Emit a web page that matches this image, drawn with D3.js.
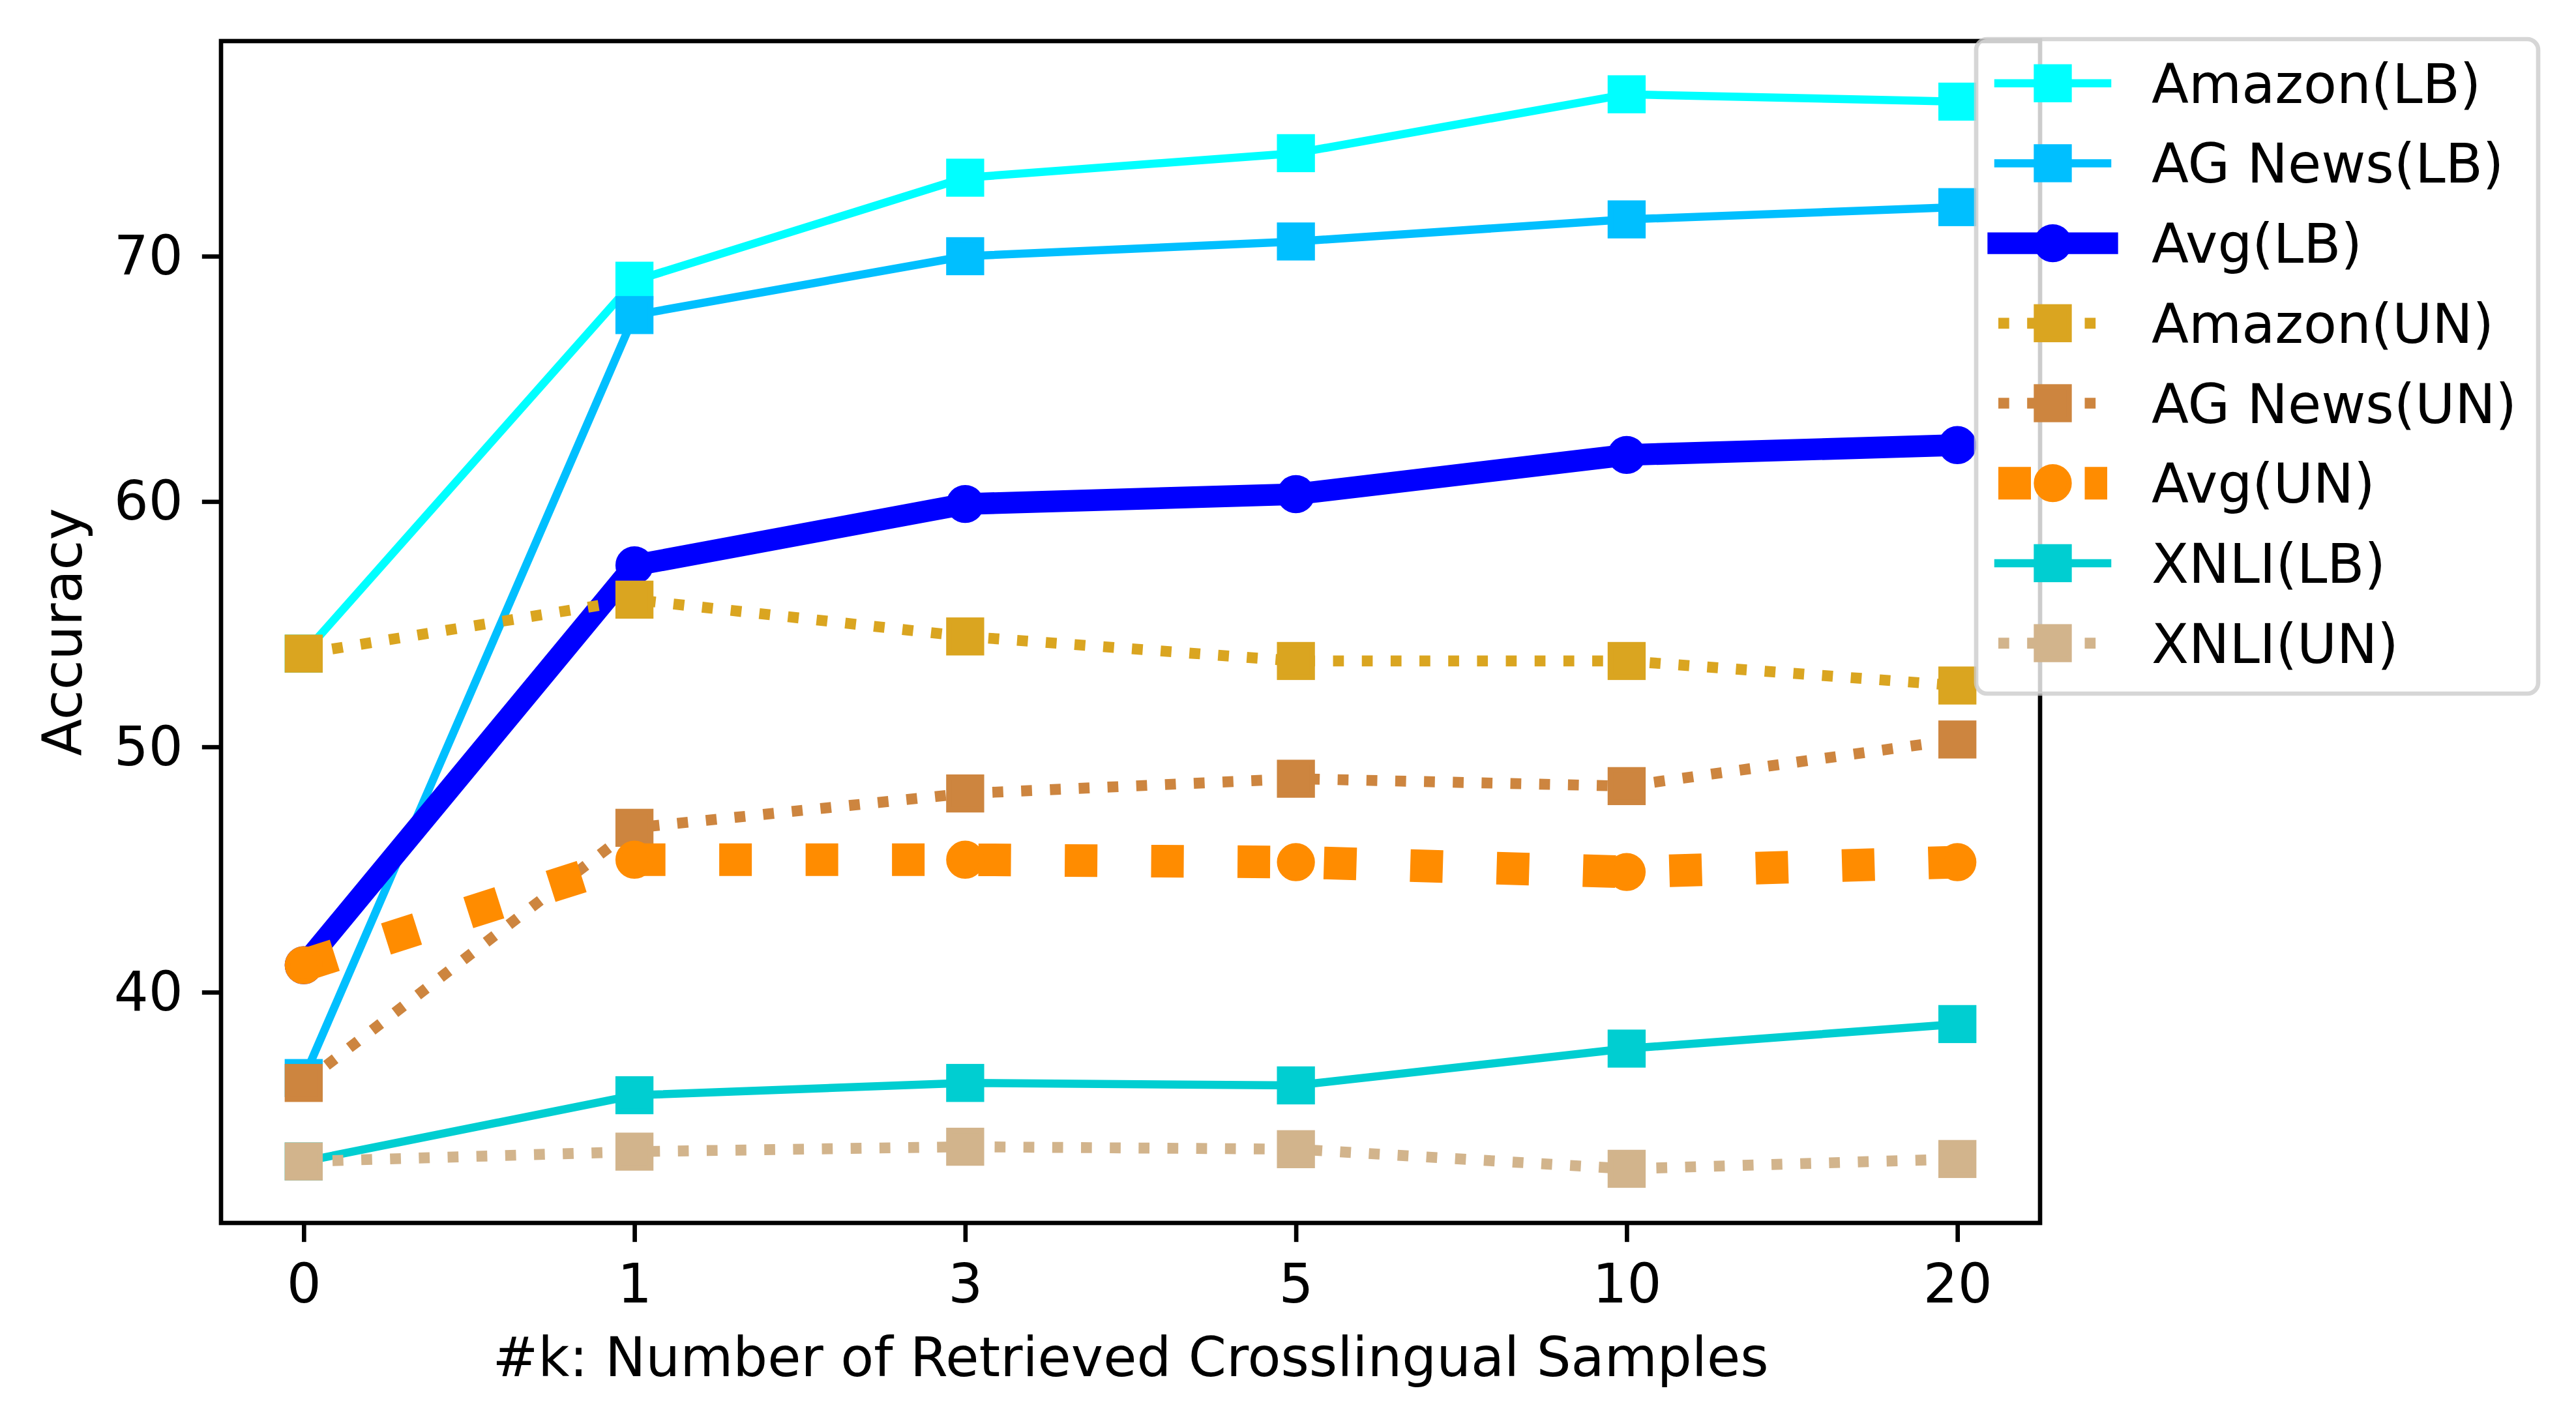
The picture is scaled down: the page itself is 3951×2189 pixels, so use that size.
<!DOCTYPE html>
<html lang="en">
<head>
<meta charset="UTF-8">
<title>Accuracy vs k</title>
<script src="https://cdn.jsdelivr.net/npm/d3@7"></script>
<style>
  body { margin: 0; background: #fff; }
  text { font-family: "DejaVu Sans", sans-serif; }
</style>
</head>
<body>
<script>
// values
var kLabels  = ["0", "1", "3", "5", "10", "20"];
var amazonLB = [53.8, 69.0, 73.2, 74.2, 76.6, 76.3];
var agNewsLB = [36.5, 67.6, 70.0, 70.6, 71.5, 72.0];
var avgLB    = [41.1, 57.4, 59.9, 60.3, 61.9, 62.3];
var amazonUN = [53.8, 56.0, 54.5, 53.5, 53.5, 52.5];
var agNewsUN = [36.3, 46.7, 48.1, 48.7, 48.4, 50.3];
var avgUN    = [41.1, 45.4, 45.4, 45.3, 44.9, 45.3];
var xnliLB   = [33.1, 35.8, 36.3, 36.2, 37.7, 38.7];
var xnliUN   = [33.1, 33.5, 33.7, 33.6, 32.8, 33.2];
var yTicks   = [40, 50, 60, 70];

var seriesNames = ["Amazon(LB)", "AG News(LB)", "Avg(LB)", "Amazon(UN)", "AG News(UN)", "Avg(UN)", "XNLI(LB)", "XNLI(UN)"];
var seriesData  = [amazonLB, agNewsLB, avgLB, amazonUN, agNewsUN, avgUN, xnliLB, xnliUN];

// styles (pt units, 600 dpi)
var pt = 600 / 72;
var styles = [
  {color: "#00FFFF", lw: 1.5, dotted: false, marker: "s"},
  {color: "#00BFFF", lw: 1.5, dotted: false, marker: "s"},
  {color: "#0000FF", lw: 4,   dotted: false, marker: "o"},
  {color: "#DAA520", lw: 2,   dotted: true,  marker: "s"},
  {color: "#CD853F", lw: 2,   dotted: true,  marker: "s"},
  {color: "#FF8C00", lw: 6,   dotted: true,  marker: "o"},
  {color: "#00CED1", lw: 1.5, dotted: false, marker: "s"},
  {color: "#D2B48C", lw: 2,   dotted: true,  marker: "s"}
];

var width = 3951, height = 2189;
var pLeft = 339, pRight = 3129, pTop = 63, pBottom = 1876;
var fs = 10 * pt;

var svg = d3.select("body").append("svg").attr("width", width).attr("height", height);

var x = d3.scaleLinear().domain([-0.25, 5.25]).range([pLeft, pRight]);
var y = d3.scaleLinear().domain([30.593, 78.769]).range([pBottom, pTop]);

var line = d3.line().x(function(d, i) { return x(i); }).y(function(d) { return y(d); });

function dash(s) {
  return s.dotted ? (s.lw * pt) + "," + (1.65 * s.lw * pt) : null;
}

function drawMarker(g, shape, cx, cy, color) {
  var ms = 6 * pt, mew = 1 * pt;
  if (shape == "s") {
    g.append("rect").attr("x", cx - ms / 2).attr("y", cy - ms / 2)
      .attr("width", ms).attr("height", ms)
      .attr("fill", color).attr("stroke", color).attr("stroke-width", mew);
  } else {
    g.append("circle").attr("cx", cx).attr("cy", cy).attr("r", ms / 2)
      .attr("fill", color).attr("stroke", color).attr("stroke-width", mew);
  }
}

svg.append("clipPath").attr("id", "clip").append("rect")
  .attr("x", pLeft).attr("y", pTop).attr("width", pRight - pLeft).attr("height", pBottom - pTop);

var plot = svg.append("g");
for (var i = 0; i < seriesData.length; i++) {
  var s = styles[i];
  var g = plot.append("g");
  g.append("path").attr("d", line(seriesData[i]))
    .attr("clip-path", "url(#clip)")
    .attr("fill", "none").attr("stroke", s.color)
    .attr("stroke-width", s.lw * pt)
    .attr("stroke-linecap", s.dotted ? "butt" : "square")
    .attr("stroke-linejoin", "round")
    .attr("stroke-dasharray", dash(s));
  for (var j = 0; j < seriesData[i].length; j++) {
    drawMarker(g, s.marker, x(j), y(seriesData[i][j]), s.color);
  }
}

// axes
var xAxis = d3.axisBottom(x).tickValues(d3.range(kLabels.length))
  .tickFormat(function(d) { return kLabels[d]; })
  .tickSizeInner(3.5 * pt).tickSizeOuter(0).tickPadding(3.5 * pt);
var yAxis = d3.axisLeft(y).tickValues(yTicks)
  .tickSizeInner(3.5 * pt).tickSizeOuter(0).tickPadding(3.5 * pt);

var gx = svg.append("g").attr("transform", "translate(0," + pBottom + ")").call(xAxis);
var gy = svg.append("g").attr("transform", "translate(" + pLeft + ",0)").call(yAxis);
[gx, gy].forEach(function(a) {
  a.select(".domain").remove();
  a.selectAll("line").attr("stroke", "#000").attr("stroke-width", 0.8 * pt);
  a.selectAll("text").attr("font-size", fs).attr("fill", "#000")
    .style("font-family", "DejaVu Sans, sans-serif");
});
gx.selectAll("text").attr("dy", "0.76em");
gy.selectAll("text").attr("dy", "0.33em");

svg.append("rect").attr("x", pLeft).attr("y", pTop)
  .attr("width", pRight - pLeft).attr("height", pBottom - pTop)
  .attr("fill", "none").attr("stroke", "#000").attr("stroke-width", 0.8 * pt);

svg.append("text").attr("x", (pLeft + pRight) / 2).attr("y", 2111)
  .attr("text-anchor", "middle").attr("font-size", fs)
  .text("#k: Number of Retrieved Crosslingual Samples");

svg.append("text").attr("transform", "translate(125," + ((pTop + pBottom) / 2) + ") rotate(-90)")
  .attr("text-anchor", "middle").attr("font-size", fs)
  .text("Accuracy");

// legend
var lg = svg.append("g");
lg.append("rect").attr("x", 3031).attr("y", 60).attr("width", 3893 - 3031).attr("height", 1064 - 60)
  .attr("rx", 0.2 * fs).attr("ry", 0.2 * fs)
  .attr("fill", "#fff").attr("fill-opacity", 0.8)
  .attr("stroke", "#cccccc").attr("stroke-opacity", 0.8).attr("stroke-width", 0.8 * pt);

var rowH = 122.7, row0 = 127.7, hx0 = 3065, hx1 = 3232, tx = 3300;
for (var i = 0; i < seriesNames.length; i++) {
  var s = styles[i];
  var cy = row0 + i * rowH;
  lg.append("line").attr("x1", hx0).attr("x2", hx1).attr("y1", cy).attr("y2", cy)
    .attr("stroke", s.color).attr("stroke-width", s.lw * pt)
    .attr("stroke-linecap", s.dotted ? "butt" : "square")
    .attr("stroke-dasharray", dash(s));
  drawMarker(lg, s.marker, (hx0 + hx1) / 2, cy, s.color);
  lg.append("text").attr("x", tx).attr("y", cy + 30).attr("font-size", fs).text(seriesNames[i]);
}
</script>
</body>
</html>
